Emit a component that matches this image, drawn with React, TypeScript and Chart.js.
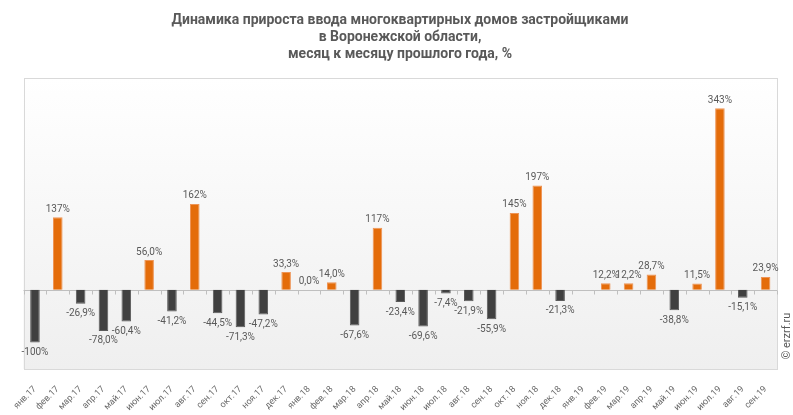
import React, { useEffect, useRef } from "react";
import { Chart, registerables } from "chart.js";

Chart.register(...registerables);

const categories: string[] = [
  "янв.17", "фев.17", "мар.17", "апр.17", "май.17", "июн.17", "июл.17", "авг.17", "сен.17", "окт.17", "ноя.17", "дек.17",
  "янв.18", "фев.18", "мар.18", "апр.18", "май.18", "июн.18", "июл.18", "авг.18", "сен.18", "окт.18", "ноя.18", "дек.18",
  "янв.19", "фев.19", "мар.19", "апр.19", "май.19", "июн.19", "июл.19", "авг.19", "сен.19",
];

const values: (number | null)[] = [
  -100, 137, -26.9, -78.0, -60.4, 56.0, -41.2, 162, -44.5, -71.3, -47.2, 33.3,
  0.0, 14.0, -67.6, 117, -23.4, -69.6, -7.4, -21.9, -55.9, 145, 197, -21.3,
  null, 12.2, 12.2, 28.7, -38.8, 11.5, 343, -15.1, 23.9,
];

const titleLines: string[] = [
  "Динамика прироста ввода многоквартирных домов застройщиками",
  "в Воронежской области,",
  "месяц к месяцу прошлого года, %",
];

const watermark = "© erzrf.ru";

const yMin = -150;
const yMax = 400;

const ORANGE = "#E46C0A";
const DARK = "#404040";
const TEXT = "#595959";
const FONT = "Roboto, 'Liberation Sans', Arial, sans-serif";

function fmt(v: number): string {
  const s = Math.abs(v) >= 100 ? String(Math.round(v)) : v.toFixed(1).replace(".", ",");
  return s + "%";
}

const decorPlugin = {
  id: "decor",
  beforeDraw(chart: any) {
    const { ctx, chartArea } = chart;
    const { left, right, top, bottom } = chartArea;
    ctx.save();
    ctx.fillStyle = "#ffffff";
    ctx.fillRect(0, 0, chart.width, chart.height);
    const g = ctx.createLinearGradient(0, top, 0, bottom);
    g.addColorStop(0, "#ffffff");
    g.addColorStop(1, "#efefef");
    ctx.fillStyle = g;
    ctx.fillRect(left, top, right - left, bottom - top);
    ctx.strokeStyle = "#d9d9d9";
    ctx.lineWidth = 1;
    ctx.strokeRect(Math.round(left) + 0.5, Math.round(top) + 0.5, Math.round(right - left), Math.round(bottom - top));
    ctx.restore();
  },
  beforeDatasetsDraw(chart: any) {
    const { ctx, chartArea, scales } = chart;
    const y0 = Math.round(scales.y.getPixelForValue(0)) + 0.5;
    ctx.save();
    ctx.strokeStyle = "#bfbfbf";
    ctx.lineWidth = 1;
    ctx.beginPath();
    ctx.moveTo(chartArea.left, y0);
    ctx.lineTo(chartArea.right, y0);
    const n = categories.length;
    const w = (chartArea.right - chartArea.left) / n;
    for (let i = 0; i <= n; i++) {
      const x = Math.round(chartArea.left + i * w) + 0.5;
      ctx.moveTo(x, y0);
      ctx.lineTo(x, y0 + 4);
    }
    ctx.stroke();
    ctx.restore();
  },
  afterDatasetsDraw(chart: any) {
    const { ctx } = chart;
    const meta = chart.getDatasetMeta(0);
    ctx.save();
    ctx.font = `10px ${FONT}`;
    ctx.fillStyle = TEXT;
    ctx.textAlign = "center";
    meta.data.forEach((bar: any, i: number) => {
      const v = values[i];
      if (v === null || v === undefined) return;
      const p = bar.getProps(["x", "y", "base"], true);
      if (v >= 0) {
        ctx.textBaseline = "bottom";
        ctx.fillText(fmt(v), p.x, p.y - 3);
      } else {
        ctx.textBaseline = "top";
        ctx.fillText(fmt(v), p.x, p.y + 5);
      }
    });
    ctx.restore();

    // title
    ctx.save();
    ctx.font = `bold 14px ${FONT}`;
    ctx.fillStyle = TEXT;
    ctx.textAlign = "center";
    ctx.textBaseline = "middle";
    titleLines.forEach((t, i) => {
      ctx.fillText(t, 400, 20 + i * 17);
    });
    ctx.restore();

    // watermark
    ctx.save();
    ctx.translate(787, 336);
    ctx.rotate(-Math.PI / 2);
    ctx.font = `11px ${FONT}`;
    ctx.fillStyle = TEXT;
    ctx.textAlign = "center";
    ctx.textBaseline = "middle";
    ctx.fillText(watermark, 0, 0);
    ctx.restore();
  },
};

export default function App() {
  const ref = useRef<HTMLCanvasElement | null>(null);
  useEffect(() => {
    if (!ref.current) return;
    const chart = new Chart(ref.current, {
      type: "bar",
      data: {
        labels: categories,
        datasets: [
          {
            data: values as any,
            backgroundColor: values.map((v) => ((v ?? 0) >= 0 ? ORANGE : DARK)),
            borderColor: values.map((v) => ((v ?? 0) >= 0 ? "#EE9455" : "#5a5a5a")),
            borderWidth: 1,
            barPercentage: 0.42,
            categoryPercentage: 1,
          },
        ],
      },
      options: {
        responsive: false,
        animation: false,
        devicePixelRatio: 1,
        layout: { padding: { top: 78, left: 22, right: 16, bottom: 0 } },
        plugins: {
          legend: { display: false },
          title: { display: false },
          tooltip: { enabled: false },
        },
        scales: {
          x: {
            grid: { display: false, drawTicks: false },
            border: { display: false },
            ticks: {
              autoSkip: false,
              minRotation: 45,
              maxRotation: 45,
              padding: 15,
              color: "#6a6a6a",
              font: { family: FONT, size: 9 },
            },
            afterFit(scale: any) {
              scale.height = 46;
            },
          },
          y: {
            display: false,
            min: yMin,
            max: yMax,
          },
        },
      },
      plugins: [decorPlugin],
    });
    return () => chart.destroy();
  }, []);
  return (
    <div style={{ position: "fixed", left: 0, top: 0, width: 793, height: 415, background: "#fff" }}>
      <canvas ref={ref} width={793} height={415} style={{ display: "block" }} />
    </div>
  );
}
